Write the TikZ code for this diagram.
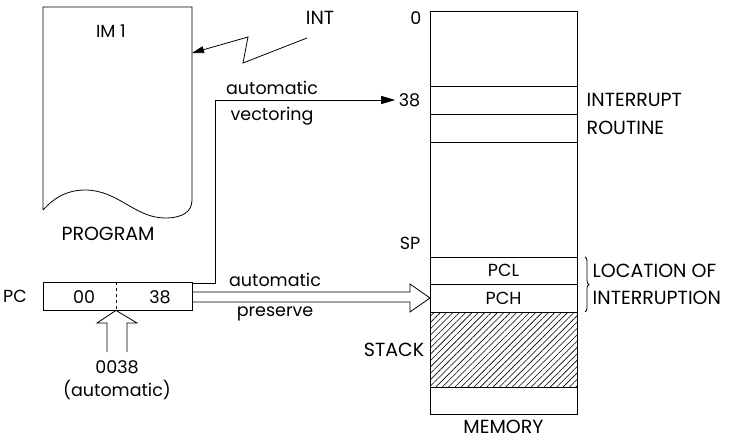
\documentclass[tikz,border=0pt]{standalone}
\usepackage{fontspec}
\setmainfont{Poppins}
\usetikzlibrary{%
	calc,%
	arrows.meta,%
	positioning,%
	patterns.meta,%
	decorations.pathreplacing,%
}
\tikzset{
	>=Triangle,%
	memcell/.style={%
			draw,%
			rectangle,%
			minimum width=147pt,%
			inner sep=0pt,%
			outer sep=0pt,%
			fill=white},%
	regbox/.style={%
			draw,%
			rectangle,%
			minimum width=149pt,%
			minimum height=28pt,%
			inner sep=0pt},%
	hatched/.style={%
			pattern={Lines[angle=45,distance=4.5pt,line width=0.6pt]}},%
	bigtxt/.style={font={\fontsize{19}{22}\selectfont}},%
	vecarrow/.style={-{Triangle[length=14pt,width=8pt]}},%
	intarrow/.style={-{Triangle[length=12pt,width=7pt]}},%
}

\begin{document}
\begin{tikzpicture}[x=1pt, y=-1pt, line width=0.8pt, nodes={font={\fontsize{17.5}{20}\selectfont}}]%
	\useasboundingbox (0,0) rectangle (730,441);

	% program listing
	\draw (43,210) -- (43,7) -- (192,7) -- (192,200)
		.. controls (192,212) and (182,218) .. (165,218)
		.. controls (135,218) and (118,190) .. (85,190)
		.. controls (65,190) and (52,200) .. (43,210);
	\coordinate (progint) at (192,53);
	\node (im) at (111,31) {IM 1};
	\node[bigtxt] (prog) at (108,234) {PROGRAM};

	% interrupt request
	\node[bigtxt] (int) at (320,18) {INT};
	\coordinate (intfrom) at (307,38);
	\draw[intarrow] (intfrom) -- (243,63) -- (248,37) -- (progint);

	% memory map
	\node[memcell, minimum height=403pt] (mem) at (503.5,212.5) {};
	\node[memcell, minimum height=28pt] (vec) at (503.5,100) {};
	\node[memcell, minimum height=28pt, below=0pt of vec] (rout) {};
	\node[memcell, minimum height=27pt] (pcl) at (503.5,270.5) {PCL};
	\node[memcell, minimum height=28pt, below=0pt of pcl] (pch) {PCH};
	\node[memcell, hatched, minimum height=75pt, below=0pt of pch] (stack) {};

	\node[anchor=east] (a0) at ($(mem.north west)+(-5,7)$) {0};
	\node[left=6pt of vec.west] (a38) {38};
	\node[anchor=east] (asp) at ($(pcl.north west)+(-6,-14)$) {SP};
	\node[bigtxt, left=2pt of stack] (astack) {STACK};
	\node[bigtxt, below=2pt of mem] (amem) {MEMORY};

	\node[bigtxt, anchor=west] (irt1) at ($(vec.east)+(6,0)$) {INTERRUPT};
	\node[bigtxt, anchor=west] (irt2) at ($(rout.east)+(6,0)$) {ROUTINE};

	\draw[decorate, decoration={brace, amplitude=4pt}] ($(pcl.north east)+(8,0)$) -- ($(pch.south east)+(8,0)$);
	\node[bigtxt, anchor=west] (loc1) at ($(pcl.east)+(12,0)$) {LOCATION OF};
	\node[bigtxt, anchor=west] (loc2) at ($(pch.east)+(12,0)$) {INTERRUPTION};

	% program counter
	\node[regbox] (pcreg) at (117.5,296) {};
	\node (pchi) at (84,297) {00};
	\node (pclo) at (160,297) {38};
	\node[left=12pt of pcreg] (apc) {PC};
	\coordinate (pcdiv) at (116,282);
	\coordinate (pcdivb) at (pcdiv |- pcreg.south);
	\draw[dashed, dash pattern=on 3pt off 3pt] (pcdiv) -- (pcdivb);

	% automatic vectoring
	\draw[vecarrow] ($(pcreg.north east)+(0,2)$) -- ++(23,0) |- (a38.west);
	\node (av1) at (272,88) {automatic};
	\node (av2) at (272,116) {vectoring};

	% automatic preserve
	\draw ($(pcreg.east)+(0,-4)$) -- (410,292) -- (410,284) -- (pch.west)
		-- (410,312) -- (410,302) -- ($(pcreg.east)+(0,6)$);
	\node (ap1) at (275,280) {automatic};
	\node (ap2) at (275,314) {preserve};

	% vector load
	\draw (107,352) -- (107,323) -- (97,323) -- (pcdivb) -- (137,323) -- (127,323) -- (127,352);
	\node (ald) at (117,367) {0038};
	\node (aauto) at (117,390) {(automatic)};
\end{tikzpicture}
\end{document}
